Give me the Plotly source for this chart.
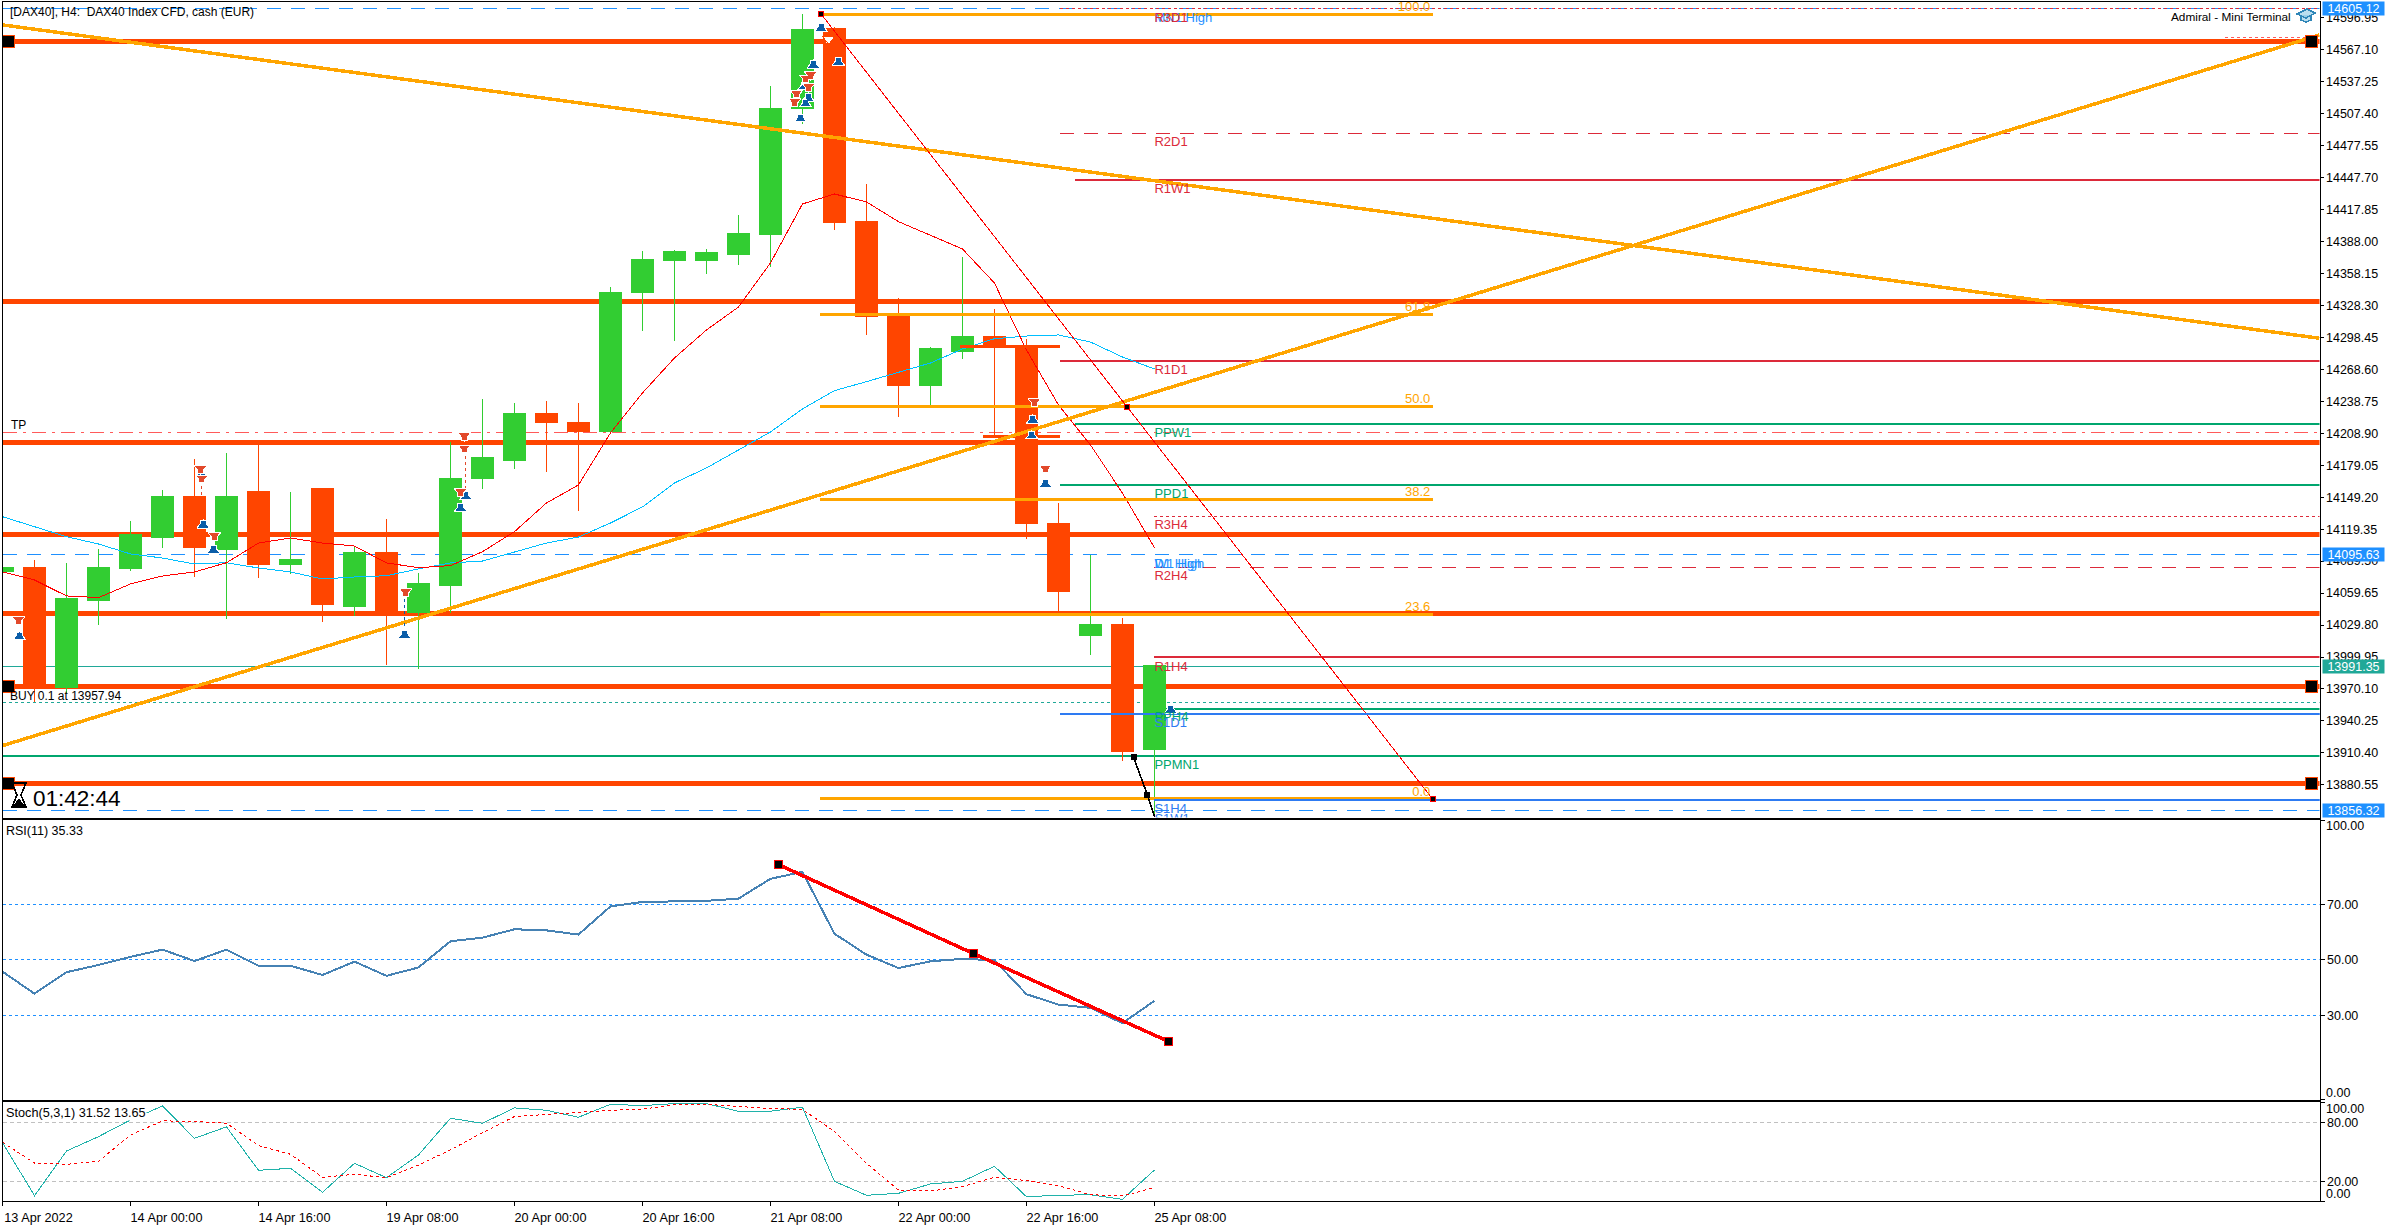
import plotly.graph_objects as go

W, H = 2396, 1225
FONT = "Liberation Sans"

# ---------- candles (bar index, prices) ----------
bars = list(range(37))
open_ = [14079.4,14084.0,13971.3,14052.3,14082.2,14112.0,14149.4,14100.8,14154.1,14085.9,14156.9,14046.7,14098.0,
         14041.1,14066.3,14166.2,14183.9,14227.8,14218.5,14211.0,14339.9,14369.8,14369.8,14375.4,14394.1,14511.7,
         14586.4,14406.2,14317.5,14253.1,14284.8,14299.7,14291.3,14125.1,14020.5,14029.9,13913.2]
high_ = [14086.0,14090.6,14087.8,14100.8,14127.0,14155.9,14184.9,14190.5,14198.0,14154.1,14156.9,14103.0,14128.9,
         14078.4,14200.8,14240.9,14237.2,14239.0,14237.2,14345.5,14379.1,14380.0,14381.0,14412.7,14533.2,14600.4,
         14588.3,14441.7,14335.2,14289.5,14373.5,14325.0,14297.0,14143.8,14095.3,14036.4,13991.6]
low_ = [14077.5,13958.3,13966.4,14029.9,14080.3,14101.8,14074.7,14035.8,14073.8,14077.5,14033.0,14038.3,13992.5,
        13988.8,14041.1,14156.9,14175.5,14172.7,14136.3,14211.0,14304.4,14295.1,14357.6,14366.0,14364.2,14497.7,
        14398.7,14300.7,14224.1,14234.4,14278.3,14207.3,14110.2,14043.0,14001.9,13902.9,13850.6]
close_ = [14084.0,13972.9,14054.2,14083.1,14113.9,14149.4,14101.8,14150.3,14085.9,14090.6,14048.6,14098.0,14041.1,
          14068.2,14166.2,14186.7,14226.9,14218.5,14210.1,14340.8,14371.6,14378.2,14377.3,14395.0,14512.6,14585.5,
          14405.3,14317.8,14253.1,14287.6,14299.7,14289.5,14124.2,14061.6,14029.9,13912.2,13991.6]

# ---------- moving averages ----------
ma_red = [14079.4,14071.9,14057.0,14055.4,14068.2,14075.6,14079.4,14088.0,14106.4,14111.1,14106.4,14103.6,14087.8,
          14083.4,14085.3,14098.3,14117.0,14143.8,14160.6,14209.2,14246.5,14279.2,14305.3,14326.8,14367.9,14423.0,
          14432.3,14424.9,14406.5,14394.1,14381.0,14349.2,14286.7,14235.3,14198.0,14153.1,14102.1]
ma_blue = [14131.0,14121.7,14112.3,14105.5,14096.2,14092.4,14086.8,14088.0,14083.1,14079.4,14072.8,14074.7,14075.9,
           14082.2,14087.8,14089.6,14098.0,14106.4,14112.0,14125.1,14140.1,14162.5,14176.5,14193.3,14210.1,14231.6,
           14248.7,14257.1,14265.5,14274.5,14287.6,14297.2,14299.7,14300.7,14294.1,14280.1,14268.9]

# ---------- oscillators ----------
rsi = [45.8,37.9,45.6,48.2,51.1,53.7,49.6,53.7,47.9,47.9,44.6,49.4,44.3,47.3,56.7,58.0,61.0,60.6,59.1,69.2,70.8,70.9,
       71.2,72.0,79.1,81.6,59.4,51.9,47.1,49.5,50.4,49.9,37.7,34.0,32.8,27.3,35.33]
stoch_main = [59.3,5.4,50.8,65.4,82.4,96.6,63.7,75.3,31.2,33.2,8.8,38.3,23.7,46.8,84.1,79.0,94.6,92.2,85.1,98.3,96.9,
              99.0,99.0,91.2,91.2,95.3,20.0,5.8,7.8,17.3,20.0,35.3,4.4,5.8,6.4,1.7,31.52]
stoch_signal = [59.7,38.6,37.3,40.3,67.1,81.4,81.0,79.0,56.3,47.5,24.1,27.1,23.7,36.6,51.9,69.5,85.8,88.1,90.5,92.2,
                93.2,98.0,98.3,95.9,93.9,93.2,70.5,38.3,11.2,10.2,14.6,24.1,20.8,15.6,6.4,5.1,13.65]
rsi_trend_x = [24.25, 30.34, 36.43]
rsi_trend_y = [84.2, 52.3, 20.8]

# ---------- horizontal levels ----------
X_MAX = 72.41
thick_levels = [14574.9, 14332.1, 14200.5, 14114.6, 14040.8, 13972.6, 13882.0]
handled_levels = [14574.9, 13972.6, 13882.0]
dash_levels = [14605.12, 14095.63, 13856.32]
current_price = 13991.35
buy_price = 13957.94
tp_price = 14209.8
level_names = ["R3D1","R2D1","R1W1","R1D1","PPW1","PPD1","R3H4","R2H4","R1H4","PPH4","S1D1","PPMN1","S1H4"]
level_values = [14605.1,14489.0,14445.4,14276.7,14217.8,14160.9,14131.4,14083.8,14000.3,13951.7,13947.0,13907.8,13866.7]
level_starts = [33.05,33.05,33.53,33.05,33.53,33.05,36,36,36,36,33.05,0,36]
level_kinds = ["dot","dash","solid","solid","solid","solid","dot","dash","solid","solid","solid","solid","solid"]
level_colors = ["#DC2A3A"]*4 + ["#00A66E"]*2 + ["#DC2A3A"]*3 + ["#00A66E","#2E7BF2","#00A66E","#2E7BF2"]

label_texts = ["MN1 High","R3D1","R2D1","R1W1","R1D1","PPW1","PPD1","R3H4","D1 High","W1 High","R2H4","R1H4","PPH4",
               "S1D1","PPMN1","S1H4","S1W1"]
label_values = [14596.1,14596.1,14480.3,14436.5,14267.4,14208.6,14151.6,14122.7,14086.5,14086.5,14075.1,13990.1,
                13942.8,13937.8,13898.6,13857.5,13847.7]
label_colors = ["#1E90FF","#DC2A3A","#DC2A3A","#DC2A3A","#DC2A3A","#00A66E","#00A66E","#DC2A3A","#1E90FF","#1E90FF",
                "#DC2A3A","#DC2A3A","#00A66E","#2E7BF2","#00A66E","#2E7BF2","#2E7BF2"]

fib_names = ["100.0","61.8","50.0","38.2","23.6","0.0"]
fib_values = [14600.1,14320.0,14234.1,14147.3,14039.9,13867.4]
fib_x = [25.56, 44.69]

trend_down_x, trend_down_y = [0, X_MAX], [14590.2, 14297.6]
trend_up_x, trend_up_y = [0, X_MAX], [13917.2, 14580.8]
fib_trend_x, fib_trend_y = [25.59, 44.69], [14600.1, 13867.4]
fib_handle_x, fib_handle_y = [25.59, 35.13, 44.69], [14600.1, 14233.4, 13867.4]
black_x, black_y = [35.35, 35.78, 36.0], [13906.3, 13871.1, 13850.9]
stub_x = [[29.92, 33.04], [30.64, 33.06]]
stub_y = [14289.5, 14206.1]

# ---------- trade arrows ----------
up_x = [0.53,6.27,6.59,6.22,12.57,14.48,14.32,25.58,25.34,26.12,24.94,25.18,25.10,25.05,32.2,32.17,32.59,36.51]
up_y = [14020.5,14124.8,14101.5,14172.1,14022.1,14151.5,14140.3,14588.6,14554.4,14556.8,14504.0,14523.2,14518.0,
        14534.1,14222.9,14208.0,14163.1,13952.1]
down_x = [0.5,6.23,6.19,6.62,12.6,14.43,14.43,14.32,24.81,24.76,25.26,25.11,25.19,32.25,32.59]
down_y = [14033.0,14165.3,14174.0,14111.8,14059.5,14204.8,14193.3,14152.8,14524.8,14517.0,14541.9,14538.8,14531.0,
          14236.9,14174.6]
hollow_x, hollow_y = [25.82], [14575.2]

# ---------- axes ----------
price_ticks = [14596.95,14567.10,14537.25,14507.40,14477.55,14447.70,14417.85,14388.00,14358.15,14328.30,14298.45,
               14268.60,14238.75,14208.90,14179.05,14149.20,14119.35,14089.50,14059.65,14029.80,13999.95,13970.10,
               13940.25,13910.40,13880.55]
time_ticks = [0, 4, 8, 12, 16, 20, 24, 28, 32, 36]
time_labels = ["13 Apr 2022","14 Apr 00:00","14 Apr 16:00","19 Apr 08:00","20 Apr 00:00","20 Apr 16:00",
               "21 Apr 08:00","22 Apr 00:00","22 Apr 16:00","25 Apr 08:00"]


def px(x):
    return x / W


def py(y):
    return 1 - y / H


fig = go.Figure()
shapes = []
ORANGE_RED = "#FF4500"


def bg_line(y, color, width, dash="solid", x0=0, x1=X_MAX):
    shapes.append(dict(type="line", layer="below", xref="x", yref="y", x0=x0, x1=x1, y0=y, y1=y,
                       line=dict(color=color, width=width, dash=dash)))


bg_line(current_price, "#20A898", 1)
bg_line(buy_price, "#20A898", 1, "3px,3px")
bg_line(tp_price, "#FF5A5A", 1, "14px,6px,3px,6px")
for v in dash_levels:
    bg_line(v, "#1E90FF", 1, "14px,10px")
for v in thick_levels:
    bg_line(v, ORANGE_RED, 5)
for v, s, k, c in zip(level_values, level_starts, level_kinds, level_colors):
    if k == "solid":
        bg_line(v, c, 2)
    elif k == "dash":
        bg_line(v, c, 1, "14px,10px")
    else:
        bg_line(v, c, 1, "3px,3px")
    shapes[-1]["x0"] = s


def pixel_path(points, close=False):
    return "M " + " L ".join(f"{px(a)},{py(b)}" for a, b in points) + (" Z" if close else "")


# graduation cap icon of the "Mini Terminal" panel
shapes.append(dict(type="path", xref="paper", yref="paper", layer="above",
                   path=pixel_path([(2301, 15), (2301, 20), (2306, 22), (2311, 20), (2311, 15)]),
                   line=dict(color="#2F86B8", width=1.5), fillcolor="rgba(130,195,225,0.55)"))
shapes.append(dict(type="path", xref="paper", yref="paper", layer="above",
                   path=pixel_path([(2297, 14), (2307, 9), (2315, 13), (2306, 18)], True),
                   line=dict(color="#2F86B8", width=1.5), fillcolor="rgba(130,195,225,0.55)"))
# hourglass of the bar countdown
shapes.append(dict(type="path", xref="paper", yref="paper", layer="above",
                   path=pixel_path([(12, 783), (26, 783), (21, 795), (26, 807), (12, 807), (17, 795)], True),
                   line=dict(color="#000000", width=1.6), fillcolor="rgba(0,0,0,0)"))
shapes.append(dict(type="path", xref="paper", yref="paper", layer="above",
                   path=pixel_path([(13, 807), (19, 799), (25, 807)], True),
                   line=dict(color="#000000", width=1), fillcolor="#000000"))

fig.add_trace(go.Candlestick(x=bars, open=open_, high=high_, low=low_, close=close_, xaxis="x", yaxis="y",
                             whiskerwidth=0, hoverinfo="skip",
                             increasing=dict(line=dict(color="#32CD32", width=1), fillcolor="#32CD32"),
                             decreasing=dict(line=dict(color=ORANGE_RED, width=1), fillcolor=ORANGE_RED)))


def line(x, y, color, width, dash="solid", ax="", mode="lines"):
    fig.add_trace(go.Scatter(x=x, y=y, mode=mode, xaxis="x" + ax, yaxis="y" + ax, hoverinfo="skip",
                             line=dict(color=color, width=width, dash=dash)))


line(bars, ma_blue, "#00BFFF", 1)
line(bars, ma_red, "#FF0000", 1)
for sx, sy in zip(stub_x, stub_y):
    line(sx, [sy, sy], ORANGE_RED, 3)
for v in fib_values:
    line(fib_x, [v, v], "#FFA500", 3)
line(trend_down_x, trend_down_y, "#FFA500", 3.5)
line(trend_up_x, trend_up_y, "#FFA500", 3.5)
line(fib_trend_x, fib_trend_y, "#FF0000", 1)
line(black_x, black_y, "#000000", 1.6)
# solid blue levels stay visible over the candles
line([33.05, X_MAX], [13947.0, 13947.0], "#2E7BF2", 2)
line([36, X_MAX], [13866.7, 13866.7], "#2E7BF2", 2)
# short stop-order arrow at the right edge
line([69.45, X_MAX], [14578.3, 14578.3], "#FF5A5A", 1, "3px,3px")
# dashed connectors between trade arrows
line([6.23, 6.23], [14165.3, 14151.3], "#E2492B", 1, "3px,3px")
line([14.48, 14.48], [14193.3, 14151.5], "#E2492B", 1, "3px,3px")
line([12.57, 12.57], [14059.5, 14022.1], "#0B5DA8", 1, "3px,3px")


def markers(x, y, symbol, size, color, edge=None, ew=1, angle=0, standoff=0, ax=""):
    fig.add_trace(go.Scatter(x=x, y=y, mode="markers", xaxis="x" + ax, yaxis="y" + ax, hoverinfo="skip",
                             cliponaxis=True,
                             marker=dict(symbol=symbol, size=size, color=color, angle=angle, standoff=standoff,
                                         line=dict(color=edge or color, width=ew if edge else 0))))


def arrows(x, y, color, edge, angle):
    markers(x, y, "square", 6, color, "#FFFFFF", 1)
    markers(x, y, "triangle-up", 11, color, edge, 1, angle, 2)
    markers(x, y, "square", 5, color)


arrows(up_x, up_y, "#0B5DA8", "#FFFFFF", 0)
arrows(down_x, down_y, "#E2492B", "#FFFFFF", 180)
markers(hollow_x, hollow_y, "square", 6, "#FFFFFF", ORANGE_RED, 1)
markers(hollow_x, hollow_y, "triangle-up", 11, "#FFFFFF", ORANGE_RED, 1, 180, 2)

# line-object handles
markers([0.2] * 3, handled_levels, "square", 12, "#000000", ORANGE_RED, 1)
markers([72.17] * 3, handled_levels, "square", 12, "#000000", ORANGE_RED, 1)
markers(fib_handle_x, fib_handle_y, "square", 5, "#000000", "#FF0000", 1)
markers(black_x[:2], black_y[:2], "square", 6, "#000000")

# level and Fibonacci labels, real text that the pane clips
for t, v, c in zip(label_texts, label_values, label_colors):
    fig.add_trace(go.Scatter(x=[36.0], y=[v], mode="text", text=[t], textposition="middle right", xaxis="x", yaxis="y",
                             hoverinfo="skip", cliponaxis=True, textfont=dict(family=FONT, size=13, color=c)))
for t, v in zip(fib_names, fib_values):
    fig.add_trace(go.Scatter(x=[44.62], y=[v], mode="text", text=[t], textposition="top left", xaxis="x", yaxis="y",
                             hoverinfo="skip", cliponaxis=True, textfont=dict(family=FONT, size=13, color="#FFA500")))

# RSI pane
for v in (70, 50, 30):
    line([0, X_MAX], [v, v], "#1E90FF", 1, "3px,3px", "2")
line(bars, rsi, "#4682B4", 2, ax="2")
line(rsi_trend_x, rsi_trend_y, "#FF0000", 3.5, ax="2")
markers(rsi_trend_x, rsi_trend_y, "square", 8, "#000000", "#FF0000", 1, ax="2")

# Stochastic pane
for v in (80, 20):
    line([0, X_MAX], [v, v], "#C0C0C0", 1, "4px,3px", "3")
line(bars, stoch_main, "#20B2AA", 1, ax="3")
line(bars, stoch_signal, "#FF0000", 1, "3px,3px", "3")


def note(x, y, text, size=12.3, color="#000000", xanchor="left", family=FONT, **kw):
    return dict(xref="paper", yref="paper", x=px(x), y=py(y), text=text, showarrow=False, xanchor=xanchor,
                yanchor="middle", font=dict(family=family, size=size, color=color), borderpad=0, **kw)


annotations = [
    note(9, 12, "[DAX40], H4:  DAX40 Index CFD, cash (EUR)", 12),
    note(2291.7, 16.7, "Admiral - Mini Terminal", 11.8, xanchor="right"),
    note(10, 425.3, "TP", 12),
    note(9, 695.7, "BUY 0.1 at 13957.94", 12),
    note(32, 798.3, "01:42:44", 22.5),
    note(5, 830.7, "RSI(11) 35.33", 12.5),
    note(5, 1113.3, "Stoch(5,3,1) 31.52 13.65", 12.7, bgcolor="#FFFFFF"),
    note(2325, 826.3, "100.00", 12.5),
    note(2325, 1093.3, "0.00", 12.5),
    note(2325, 1109.3, "100.00", 12.5),
    note(2325, 1194.3, "0.00", 12.5),
]
for val, col in [(14605.12, "#1E90FF"), (14095.63, "#1E90FF"), (13991.35, "#20A898"), (13856.32, "#1E90FF")]:
    annotations.append(dict(xref="paper", yref="y", x=px(2322), y=val, text=f"{val:.2f}", showarrow=False,
                            xanchor="left", yanchor="middle", width=61, height=13, align="center", bgcolor=col,
                            borderpad=0, font=dict(family=FONT, size=12.5, color="#FFFFFF")))

axis_style = dict(showgrid=False, zeroline=False, showline=True, linecolor="#000000", linewidth=1, mirror=True,
                  ticks="outside", tickcolor="#000000", ticklen=4, tickwidth=1,
                  tickfont=dict(family=FONT, size=12.5, color="#000000"))
xdom = [px(2.5), px(2319.5)]
xr = [0, X_MAX]

fig.update_layout(
    width=W, height=H, margin=dict(l=0, r=0, t=0, b=0), autosize=False, template=None,
    paper_bgcolor="#FFFFFF", plot_bgcolor="#FFFFFF", showlegend=False, boxgap=0.3, boxgroupgap=0,
    shapes=shapes, annotations=annotations,
    xaxis=dict(axis_style, domain=xdom, range=xr, anchor="y", showticklabels=False, ticks="",
               rangeslider=dict(visible=False)),
    yaxis=dict(axis_style, domain=[py(817.5), py(2)], range=[13850.1, 14611.6], anchor="x", side="right",
               tickmode="array", tickvals=price_ticks, ticktext=[f"{v:.2f}" for v in price_ticks], ticklen=3),
    xaxis2=dict(axis_style, domain=xdom, range=xr, anchor="y2", showticklabels=False, ticks=""),
    yaxis2=dict(axis_style, domain=[py(1100), py(820)], range=[-0.25, 100.2], anchor="x2", side="right",
                tickmode="array", tickvals=[100, 70, 50, 30, 0], ticktext=["", "70.00", "50.00", "30.00", ""]),
    xaxis3=dict(axis_style, domain=xdom, range=xr, anchor="y3", tickmode="array", tickvals=time_ticks,
                ticktext=time_labels, ticklabelshift=36, tickfont=dict(family=FONT, size=12.7, color="#000000")),
    yaxis3=dict(axis_style, domain=[py(1201.3), py(1102.3)], range=[-0.3, 100.3], anchor="x3", side="right",
                tickmode="array", tickvals=[100, 80, 20, 0], ticktext=["", "80.00", "20.00", ""]),
)

fig.write_html("out.html", config=dict(displayModeBar=False),
               post_script=("document.body.style.margin='0';document.documentElement.style.overflow='hidden';"
                            "var s=document.createElement('style');"
                            "s.textContent='.shapelayer path,.scatterlayer path,.boxlayer path"
                            "{shape-rendering:crispEdges}';document.head.appendChild(s);"))
